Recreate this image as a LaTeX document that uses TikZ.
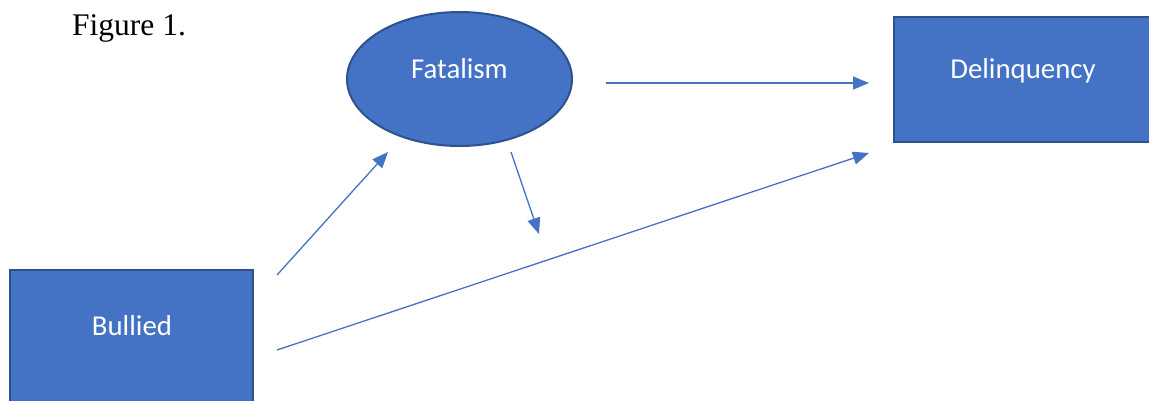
\documentclass[tikz,border=0pt]{standalone}
\usepackage{fontspec}
\setmainfont{Liberation Serif}
\newfontfamily\calib{Carlito}
\usetikzlibrary{arrows.meta,shapes.geometric}
\definecolor{officeblue}{HTML}{4472C4}
\definecolor{edgeblue}{HTML}{2F528F}
\tikzset{
  boxnode/.style={draw=edgeblue, fill=officeblue, line width=2pt, inner sep=0pt},
  lbl/.style={text=white, font=\calib\fontsize{28.8}{34}\selectfont, inner sep=0pt, anchor=base},
  link/.style={draw=officeblue, line width=1.3pt, -{Triangle[length=16pt,width=13pt]}}
}
\begin{document}
\begin{tikzpicture}[x=1pt,y=-1pt]
\useasboundingbox (0,0) rectangle (1149,400);
\fill[white] (0,0) rectangle (1149,400);
% title
\node[font=\fontsize{31.5}{36}\selectfont, inner sep=0pt, anchor=base west] (title) at (72,35) {Figure 1.};
% shapes
\node[boxnode, ellipse, minimum width=225pt, minimum height=134pt] (fat) at (459.5,79) {};
\node[boxnode, rectangle, minimum width=280pt, minimum height=125pt] (del) at (1034,79.5) {};
\node[boxnode, rectangle, minimum width=243pt, minimum height=160pt] (bul) at (131.5,350) {};
% labels
\node[lbl] (fatl) at (459.5,78) {Fatalism};
\node[lbl] (dell) at (1023,78) {Delinquency};
\node[lbl] (bull) at (132,335) {Bullied};
% connector ends
\coordinate (a1) at (277,275);
\coordinate (a2) at (388,152);
\coordinate (b1) at (511,152);
\coordinate (b2) at (539,234);
\coordinate (c1) at (606,83);
\coordinate (c2) at (869,83);
\coordinate (d1) at (277,350);
\coordinate (d2) at (869,153);
\draw[link] (a1) -- (a2);
\draw[link] (b1) -- (b2);
\draw[link] (c1) -- (c2);
\draw[link] (d1) -- (d2);
\end{tikzpicture}
\end{document}
